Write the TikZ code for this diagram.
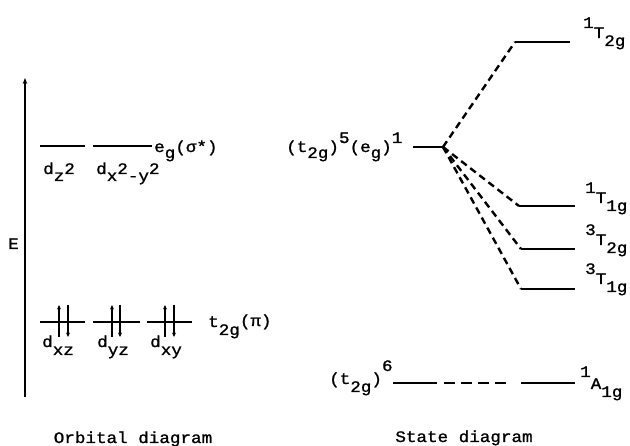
\documentclass[tikz,border=0pt]{standalone}
\usepackage{fontspec}
\setmonofont[FakeStretch=1.1,FakeBold=1.2]{Liberation Mono}
\usetikzlibrary{arrows.meta}
\newcommand\lowr[2][7pt]{\raisebox{-#1}{#2}}
\newcommand\highr[2][10pt]{\raisebox{#1}{#2}}
\begin{document}
\begin{tikzpicture}[x=1pt,y=-1pt,
  txt/.style={inner sep=0pt, anchor=base west, font=\ttfamily\fontsize{16}{18}\selectfont},
  captxt/.style={inner sep=0pt, anchor=base, font=\ttfamily\fontsize{16}{18}\selectfont},
  ebar/.style={line width=1.6pt},
  corrline/.style={line width=2.4pt, dash pattern=on 7pt off 4.5pt},
  spinarrow/.style={line width=1.1pt, -{Stealth[length=4.5pt,width=4pt]}},
  eaxis/.style={line width=1.6pt, -{Stealth[length=6pt,width=4.5pt]}},
]
\useasboundingbox (0,0) rectangle (630,446);
% energy axis
\coordinate (ax0) at (25,397);
\coordinate (ax1) at (25,78);
\draw[eaxis] (ax0) -- (ax1);
\node[txt] (E) at (8,249) {E};
% e_g levels
\coordinate (eA1) at (40,146); \coordinate (eA2) at (85,146);
\coordinate (eB1) at (93,146); \coordinate (eB2) at (152,146);
\draw[ebar] (eA1) -- (eA2);
\draw[ebar] (eB1) -- (eB2);
\node[txt] (eglab) at (154,152) {e\lowr[6pt]{g}(σ*)};
\node[txt] (dz2) at (43,174) {d\lowr{z}2};
\node[txt] (dx2y2) at (96,174) {d\lowr{x}2\lowr{-y}2};
% t_2g levels
\coordinate (tA1) at (40,322); \coordinate (tA2) at (85,322);
\coordinate (tB1) at (93,322); \coordinate (tB2) at (140,322);
\coordinate (tC1) at (147,322); \coordinate (tC2) at (192,322);
\draw[ebar] (tA1) -- (tA2);
\draw[ebar] (tB1) -- (tB2);
\draw[ebar] (tC1) -- (tC2);
% spins
\coordinate (sAu0) at (59,337); \coordinate (sAu1) at (59,305);
\coordinate (sAd0) at (68,305); \coordinate (sAd1) at (68,337);
\coordinate (sBu0) at (112,337); \coordinate (sBu1) at (112,305);
\coordinate (sBd0) at (120,305); \coordinate (sBd1) at (120,337);
\coordinate (sCu0) at (165,337); \coordinate (sCu1) at (165,305);
\coordinate (sCd0) at (174,305); \coordinate (sCd1) at (174,337);
\draw[spinarrow] (sAu0) -- (sAu1);
\draw[spinarrow] (sAd0) -- (sAd1);
\draw[spinarrow] (sBu0) -- (sBu1);
\draw[spinarrow] (sBd0) -- (sBd1);
\draw[spinarrow] (sCu0) -- (sCu1);
\draw[spinarrow] (sCd0) -- (sCd1);
\node[txt] (dxz) at (42,347) {d\lowr[8pt]{xz}};
\node[txt] (dyz) at (97,347) {d\lowr[8pt]{yz}};
\node[txt] (dxy) at (150,347) {d\lowr[8pt]{xy}};
\node[txt] (t2glab) at (208,327) {t\lowr[8pt]{2g}\raisebox{1pt}{(π)}};
% state diagram
\node[txt] (conf5) at (286,152) {(t\lowr[6pt]{2g})\highr[9pt]{5}(e\lowr[6pt]{g})\highr[9pt]{1}};
\coordinate (c0) at (413,147);
\coordinate (cp) at (443,147);
\draw[ebar] (c0) -- (cp);
% excited states
\coordinate (T2s1a) at (515,42);  \coordinate (T2s1b) at (570,42);
\coordinate (T1s1a) at (519,206); \coordinate (T1s1b) at (575,206);
\coordinate (T2s3a) at (521,249); \coordinate (T2s3b) at (575,249);
\coordinate (T1s3a) at (521,289); \coordinate (T1s3b) at (575,289);
\draw[ebar] (T2s1a) -- (T2s1b);
\draw[ebar] (T1s1a) -- (T1s1b);
\draw[ebar] (T2s3a) -- (T2s3b);
\draw[ebar] (T1s3a) -- (T1s3b);
\draw[corrline] (cp) -- (T2s1a);
\draw[corrline] (cp) -- (T1s1a);
\draw[corrline] (cp) -- (T2s3a);
\draw[corrline] (cp) -- (T1s3a);
\node[txt] (l1T2g) at (583,38) {\highr{1}T\lowr[8pt]{2g}};
\node[txt] (l1T1g) at (585,203) {\highr{1}T\lowr[8pt]{1g}};
\node[txt] (l3T2g) at (585,245) {\highr{3}T\lowr[8pt]{2g}};
\node[txt] (l3T1g) at (585,284) {\highr{3}T\lowr[8pt]{1g}};
% ground state
\node[txt] (conf6) at (329,384) {(t\lowr[8pt]{2g})\highr[13pt]{6}};
\coordinate (g1) at (393,383); \coordinate (g2) at (437,383);
\coordinate (g3) at (444,383); \coordinate (g4) at (506,383);
\coordinate (g5) at (521,383); \coordinate (g6) at (575,383);
\draw[ebar] (g1) -- (g2);
\draw[ebar, dash pattern=on 11pt off 6pt] (g3) -- (g4);
\draw[ebar] (g5) -- (g6);
\node[txt] (l1A1g) at (580,389) {\highr[12pt]{1}A\lowr[8pt]{1g}};
% captions
\node[captxt] (orbcap) at (133,443) {Orbital diagram};
\node[captxt] (statecap) at (464,442) {State diagram};
\end{tikzpicture}
\end{document}
